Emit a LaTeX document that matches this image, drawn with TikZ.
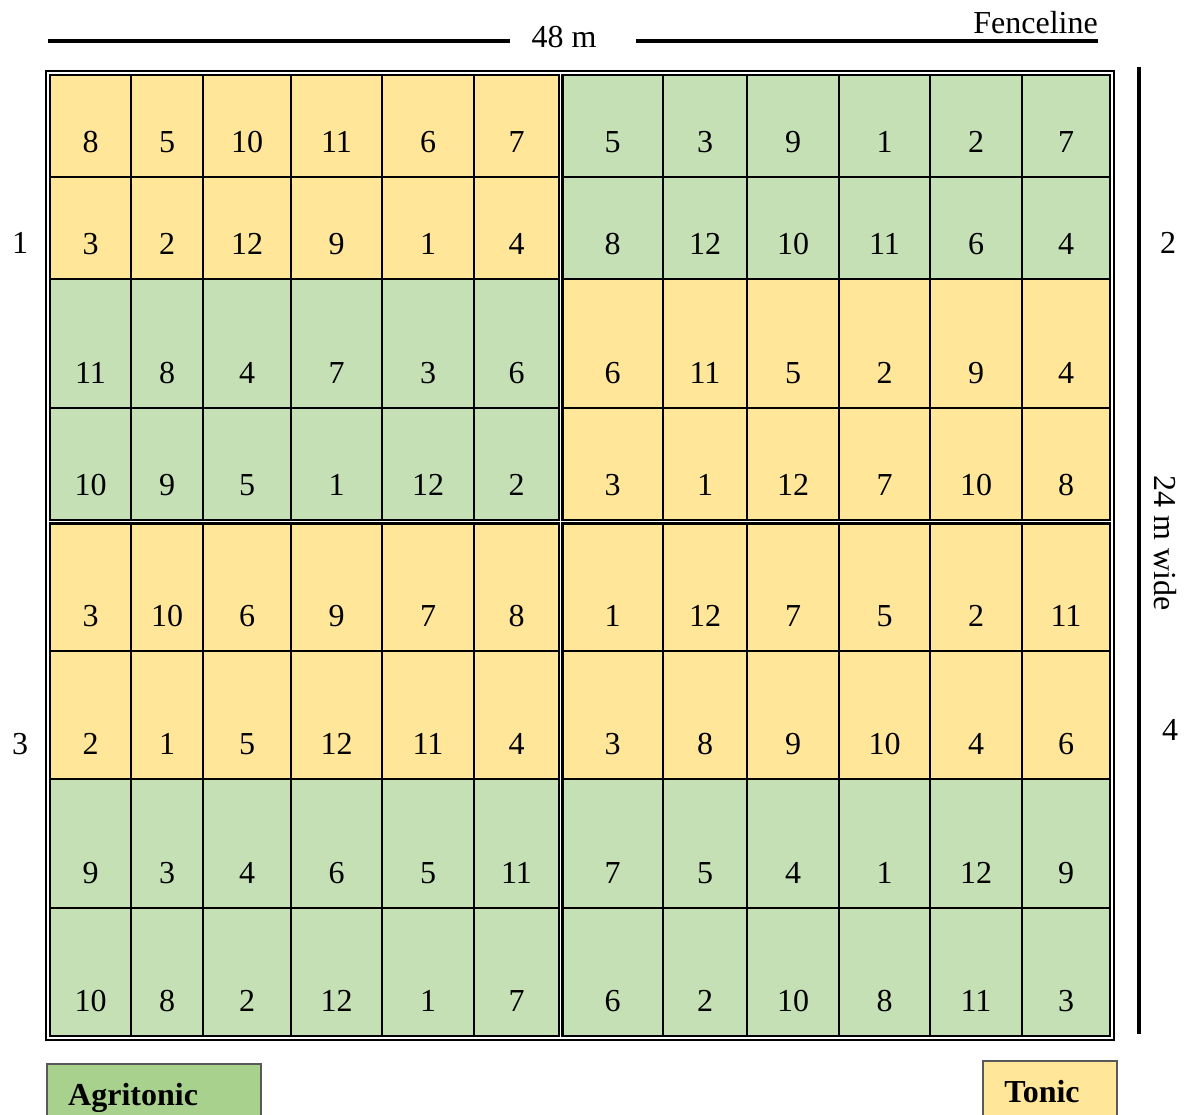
\documentclass[tikz,border=0pt]{standalone}
\usepackage{fontspec}
\setmainfont{Liberation Serif}
\definecolor{ylw}{HTML}{FFE699}
\definecolor{grn}{HTML}{C5E0B4}
\definecolor{lgrn}{HTML}{A9D18E}
\def\nums{{8,5,10,11,6,7,5,3,9,1,2,7,
3,2,12,9,1,4,8,12,10,11,6,4,
11,8,4,7,3,6,6,11,5,2,9,4,
10,9,5,1,12,2,3,1,12,7,10,8,
3,10,6,9,7,8,1,12,7,5,2,11,
2,1,5,12,11,4,3,8,9,10,4,6,
9,3,4,6,5,11,7,5,4,1,12,9,
10,8,2,12,1,7,6,2,10,8,11,3}}
\def\xL{{50,131,203,291,382,474,562,663,747,839,930,1022}}
\def\xR{{131,203,291,382,474,559,663,747,839,930,1022,1110}}
\def\yT{{75,177,279,408,523,651,779,908}}
\def\yB{{177,279,408,520,651,779,908,1036}}
\def\colL{{0,0,1,1,0,0,1,1}}
\def\colR{{1,1,0,0,0,0,1,1}}
\begin{document}
\begin{tikzpicture}[x=1bp,y=-1bp,
  cell/.style={draw=black, line width=2bp, inner sep=0pt, outer sep=0pt, anchor=north west},
  num/.style={font=\fontsize{32bp}{38bp}\selectfont, inner sep=0pt, anchor=base},
  lbl/.style={font=\fontsize{32bp}{38bp}\selectfont, inner sep=0pt},
  blbl/.style={font=\fontsize{32bp}{38bp}\selectfont\bfseries, inner sep=0pt},
  quad/.style={draw=black, line width=2bp},
  frame/.style={draw=black, line width=1.6bp},
  dimline/.style={draw=black, line width=3.6bp},
  legbox/.style={draw=black!65, line width=1.2bp, inner sep=0pt, outer sep=0pt, anchor=north west, minimum height=80bp}
]
\clip (0,0) rectangle (1190,1115);
\fill[white] (0,0) rectangle (1190,1115);
% cells
\foreach \r in {0,...,7}{
  \foreach \c in {0,...,11}{
    \pgfmathtruncatemacro{\xa}{\xL[\c]}
    \pgfmathtruncatemacro{\xb}{\xR[\c]}
    \pgfmathtruncatemacro{\yt}{\yT[\r]}
    \pgfmathtruncatemacro{\yb}{\yB[\r]}
    \pgfmathtruncatemacro{\kl}{\colL[\r]}
    \pgfmathtruncatemacro{\kr}{\colR[\r]}
    \pgfmathtruncatemacro{\n}{\nums[\r*12+\c]}
    \ifnum\c<6 \let\k\kl \else \let\k\kr \fi
    \ifnum\k=0 \def\fc{ylw}\else\def\fc{grn}\fi
    \node[cell, fill=\fc, minimum width={(\xb-\xa)*1bp}, minimum height={(\yb-\yt)*1bp}] (cell-\r-\c) at (\xa,\yt) {};
    \node[num] (num-\r-\c) at ({(\xa+\xb)/2},{\yb-25}) {\n};
  }
}
% quadrant borders
\draw[quad] (50,75) rectangle (559,520);
\draw[quad] (562.5,75) rectangle (1110,520);
\draw[quad] (50,523.5) rectangle (559,1036);
\draw[quad] (562.5,523.5) rectangle (1110,1036);
% outer frame
\draw[frame] (46,71) rectangle (1114,1040);
% top dimension
\coordinate (dl1) at (48,41);
\coordinate (dl2) at (510,41);
\coordinate (dr1) at (636,41);
\coordinate (dr2) at (1098,41);
\draw[dimline] (dl1) -- (dl2);
\draw[dimline] (dr1) -- (dr2);
\node[lbl, anchor=base] (len) at (564,47) {48 m};
\node[lbl, anchor=base east] (fence) at (1098,33) {Fenceline};
% right dimension
\coordinate (vr1) at (1139,67);
\coordinate (vr2) at (1139,1034);
\draw[dimline] (vr1) -- (vr2);
\node[lbl, rotate=-90] (wide) at (1165,543) {24 m wide};
% block labels
\node[lbl] (b1) at (20,243) {1};
\node[lbl] (b2) at (1168,243) {2};
\node[lbl] (b3) at (20,744) {3};
\node[lbl] (b4) at (1170,730) {4};
% legend
\node[legbox, fill=lgrn, minimum width=214bp] (agribox) at (47,1064) {};
\node[blbl, anchor=base west] (agritxt) at (68,1105) {Agritonic};
\node[legbox, fill=ylw, minimum width=134bp] (tonicbox) at (983,1061) {};
\node[blbl, anchor=base] (tonictxt) at (1042,1102) {Tonic};
\end{tikzpicture}
\end{document}
